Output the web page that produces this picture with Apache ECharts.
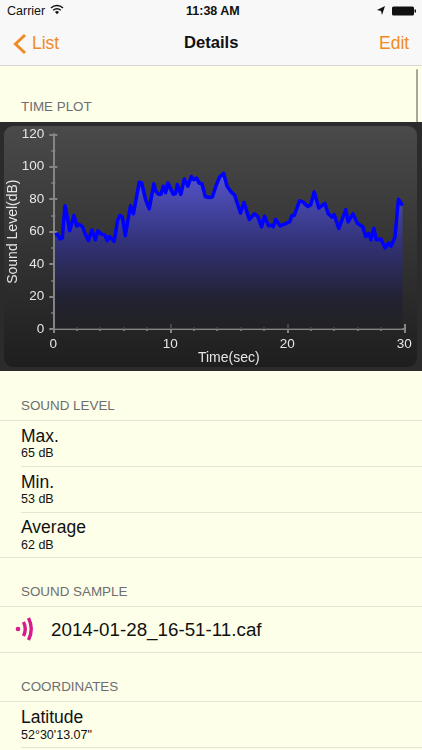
<!DOCTYPE html>
<html><head><meta charset="utf-8">
<script src="https://cdn.jsdelivr.net/npm/echarts@6/dist/echarts.min.js"></script>
<style>
html,body{margin:0;padding:0;width:422px;height:750px;overflow:hidden;background:#fdffe9;font-family:"Liberation Sans",sans-serif;color:#111}
.t{position:absolute;white-space:nowrap;line-height:1}
.l{position:absolute;height:1px;background:#e4e5d4;right:0}
#bezel{position:absolute;left:0;top:122px;width:422px;height:249px;background:#2b2b2b}
#panel{position:absolute;left:4px;top:126px;width:413px;height:241px;border-radius:9px;background:linear-gradient(#4a4a4a,#1e1e1e)}
#chart{position:absolute;left:0;top:122px;width:422px;height:249px}
.h{font-size:13.4px;color:#6d6d72}
.m{font-size:17.5px}
.s{font-size:12.5px}
</style></head><body>
<div style="position:absolute;left:0;top:0;width:422px;height:65px;background:#f8f8f8;border-bottom:1px solid #d8d8d0"></div>
<div class="t" style="left:7px;top:5px;font-size:12.5px">Carrier</div>
<svg style="position:absolute;left:50px;top:4px" width="14" height="11" viewBox="0 0 14 11"><path d="M1 4 A8.5 8.5 0 0 1 13 4 M3.2 6.2 A5.5 5.5 0 0 1 10.8 6.2" fill="none" stroke="#111" stroke-width="1.4"/><path d="M5 8 A3 3 0 0 1 9 8 L7 10.3Z" fill="#111"/></svg>
<div class="t" style="left:186px;top:5px;font-size:12.5px;font-weight:bold">11:38 AM</div>
<svg style="position:absolute;left:376px;top:5px" width="40" height="11" viewBox="0 0 40 11"><path d="M9 1 L1 5 L5 6 L6 10Z" fill="#111"/><rect x="16" y="1.5" width="22" height="9" rx="1.5" fill="#111"/><rect x="38.5" y="4.5" width="1.5" height="3" fill="#111"/></svg>
<svg style="position:absolute;left:12px;top:33px" width="16" height="22" viewBox="0 0 16 22"><path d="M13 2 L3.5 11 L13 20" fill="none" stroke="#f08a24" stroke-width="3"/></svg>
<div class="t" style="left:32px;top:35px;font-size:17.5px;color:#f08a24">List</div>
<div class="t" style="left:184px;top:35px;font-size:16.6px;font-weight:bold">Details</div>
<div class="t" style="left:379px;top:35px;font-size:17.5px;color:#f08a24">Edit</div>
<div class="t h" style="left:21px;top:100px">TIME PLOT</div>
<div style="position:absolute;left:416px;top:69px;width:2px;height:226px;background:#a8a89a;border-radius:1px"></div>
<div id="bezel"></div><div id="panel"></div><div id="chart"></div>

<div class="t h" style="left:21px;top:399px">SOUND LEVEL</div>
<div class="l" style="left:0;top:420px"></div>
<div class="t m" style="left:21px;top:428px">Max.</div><div class="t s" style="left:21px;top:447px">65 dB</div>
<div class="l" style="left:21px;top:466px"></div>
<div class="t m" style="left:21px;top:474px">Min.</div><div class="t s" style="left:21px;top:493px">53 dB</div>
<div class="l" style="left:21px;top:512px"></div>
<div class="t m" style="left:21px;top:519px">Average</div><div class="t s" style="left:21px;top:539px">62 dB</div>
<div class="l" style="left:0;top:557px"></div>
<div class="t h" style="left:21px;top:585px">SOUND SAMPLE</div>
<div class="l" style="left:0;top:606px"></div>
<svg style="position:absolute;left:15px;top:614px" width="22" height="30" viewBox="0 0 22 30"><circle cx="3" cy="15" r="2.3" fill="#d81b8c"/><path d="M8.5 8 Q12 15 8.5 22 M13.5 4 Q19 15 13.5 26" fill="none" stroke="#d81b8c" stroke-width="3.4"/></svg>
<div class="t" style="left:51px;top:621px;font-size:18.8px">2014-01-28_16-51-11.caf</div>
<div class="l" style="left:0;top:652px"></div>
<div class="t h" style="left:21px;top:680px">COORDINATES</div>
<div class="l" style="left:0;top:701px"></div>
<div class="t m" style="left:21px;top:709px">Latitude</div><div class="t s" style="left:21px;top:729px">52°30'13.07"</div>
<div class="l" style="left:21px;top:747px"></div>

<script>
const seconds=[0.14,0.34,0.57,0.77,1.0,1.2,1.4,1.77,2.0,2.2,2.5,2.7,3.0,3.3,3.6,3.8,4.1,4.4,4.6,4.8,5.2,5.5,5.7,5.9,6.15,6.3,6.6,6.85,7.0,7.35,7.55,7.9,8.2,8.35,8.6,8.75,9.0,9.2,9.4,9.6,9.8,10.25,10.45,10.6,10.9,11.0,11.2,11.5,11.8,12.0,12.25,12.45,12.7,13.0,13.4,13.6,13.9,14.2,14.56,14.85,15.2,15.5,16.0,16.3,16.75,17.2,17.5,17.8,18.05,18.4,18.6,18.8,19.0,19.4,20.2,20.4,20.6,21.05,21.3,21.75,22.0,22.3,22.7,23.2,23.5,23.8,24.0,24.4,25.0,25.2,25.6,26.0,26.45,26.7,26.95,27.15,27.4,27.6,28.0,28.35,28.65,28.85,29.2,29.5,29.85];
const soundLevel=[58,58.5,55.5,56,76,69,60.5,70,63.5,64.5,63,59,54.5,61,55,60.5,58.5,58,54.5,57,54,67,70,69,57.5,58,76,71,71,90.5,90,79.5,74,74.5,89.5,85,83,83,88,84,90,83,83.5,89,83,83.5,92.5,88,94,92,93,90,89.5,81.5,81,81.5,88,93.5,96,88,84.5,82.5,71.5,78,67.5,71,69,63,69.5,63.5,64,63,67.5,63.5,66,70,70,79,78.5,75.5,76.5,84.5,74.5,77.5,71,69,70.5,62,73.5,66,71,65,63,57,59,55,62,55,55.5,50,53,51,56.5,80,76];
const xTitle='Time(sec)', yTitle='Sound Level(dB)';
const axisColor='#858585', labelColor='#e6e6e6';
const line={lineStyle:{color:axisColor,width:2}};
const chart=echarts.init(document.getElementById('chart'),null,{renderer:'canvas'});
const xBase={type:'value',min:0,max:30,interval:10,position:'bottom',axisLine:{show:true,...line},splitLine:{show:false},minorSplitLine:{show:false}};
const yBase={type:'value',min:0,max:120,interval:20,position:'left',axisLine:{show:true,...line},splitLine:{show:false},minorSplitLine:{show:false}};
const tick=(inside,len)=>({show:true,inside,length:len,lineStyle:{color:axisColor,width:2}});
const minor=(n,len)=>({show:true,splitNumber:n,length:len,lineStyle:{color:axisColor,width:1.5}});
chart.setOption({
 animation:false,backgroundColor:'transparent',
 grid:{left:53.3,right:17.7,top:12.3,bottom:42,containLabel:false,outerBoundsMode:'none'},
 xAxis:[
  {...xBase,name:xTitle,nameLocation:'middle',nameGap:22,nameMoveOverlap:false,nameTextStyle:{color:labelColor,fontSize:14,fontFamily:'Liberation Sans'},
   axisTick:tick(false,4),minorTick:minor(5,2),axisLabel:{color:labelColor,fontSize:13.5,margin:8,fontFamily:'Liberation Sans'}},
  {...xBase,axisTick:tick(true,5),minorTick:minor(5,2),axisLabel:{show:false}}
 ],
 yAxis:[
  {...yBase,name:yTitle,nameLocation:'middle',nameGap:33,nameMoveOverlap:false,nameTextStyle:{color:labelColor,fontSize:14,fontFamily:'Liberation Sans'},
   axisTick:tick(false,4),minorTick:minor(2,2),axisLabel:{color:labelColor,fontSize:13.5,margin:9,fontFamily:'Liberation Sans'}},
  {...yBase,axisTick:tick(true,4),minorTick:minor(2,2),axisLabel:{show:false}}
 ],
 series:[{type:'line',showSymbol:false,smooth:false,data:seconds.map((t,i)=>[t,soundLevel[i]]),
  lineStyle:{color:'#0000ff',width:3.5,join:'round'},
  areaStyle:{opacity:1,color:new echarts.graphic.LinearGradient(0,0,0,1,[{offset:0,color:'rgba(85,85,205,1)'},{offset:0.45,color:'rgba(50,50,120,1)'},{offset:0.8,color:'rgba(34,34,52,1)'},{offset:1,color:'rgba(32,32,36,0.6)'}])}}]
});
</script>
</body></html>
